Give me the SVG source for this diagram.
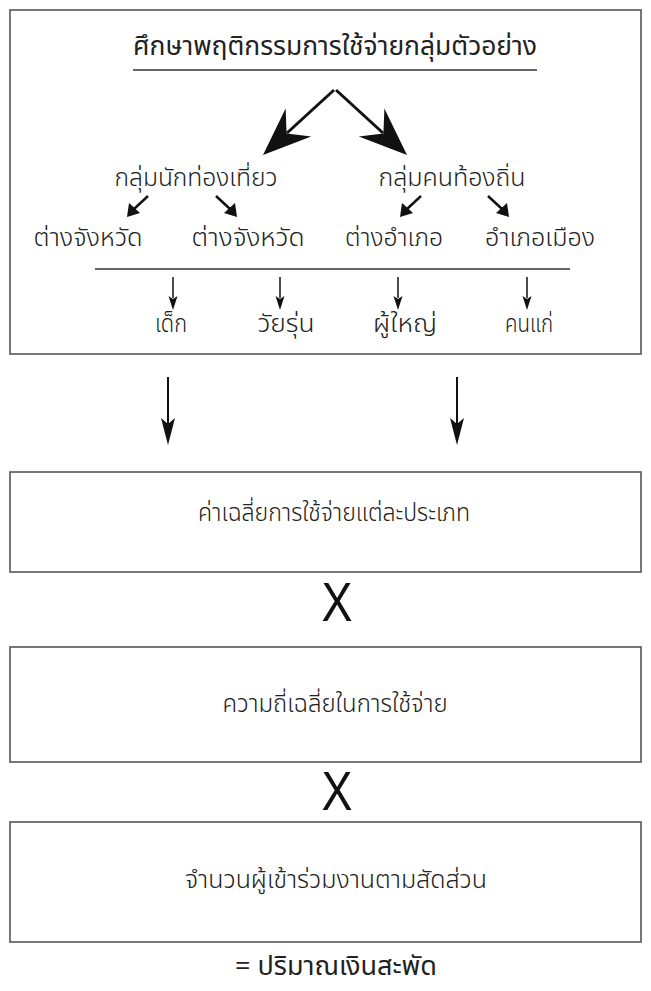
<svg xmlns="http://www.w3.org/2000/svg" width="651" height="991" viewBox="0 0 651 991">
<style>
.box{fill:#fff;stroke:#555;stroke-width:1.6}
.t{font-family:"Noto Sans Thai","Noto Sans",sans-serif;font-weight:300;fill:#222;text-anchor:middle}
.x{font-family:"Liberation Sans",Arial,sans-serif;fill:#111;text-anchor:middle}
.ln{stroke:#111;fill:none}
.hd{fill:#111;stroke:none}
</style>
<rect width="651" height="991" fill="#fff"/>
<g id="node-top">
<rect class="box" x="10" y="10" width="631" height="344"/>
<text class="t" x="335" y="55" font-size="26" textLength="404" lengthAdjust="spacingAndGlyphs" style="font-weight:400">ศึกษาพฤติกรรมการใช้จ่ายกลุ่มตัวอย่าง</text>
<line x1="133" y1="70" x2="537" y2="70" stroke="#333" stroke-width="1.3"/>
<text class="t" x="196" y="186" font-size="24" textLength="163" lengthAdjust="spacingAndGlyphs">กลุ่มนักท่องเที่ยว</text>
<text class="t" x="452" y="186" font-size="24" textLength="147" lengthAdjust="spacingAndGlyphs">กลุ่มคนท้องถิ่น</text>
<text class="t" x="88" y="246" font-size="24" textLength="109" lengthAdjust="spacingAndGlyphs">ต่างจังหวัด</text>
<text class="t" x="248" y="246" font-size="24" textLength="113" lengthAdjust="spacingAndGlyphs">ต่างจังหวัด</text>
<text class="t" x="394" y="246" font-size="24" textLength="98" lengthAdjust="spacingAndGlyphs">ต่างอำเภอ</text>
<text class="t" x="540" y="246" font-size="24" textLength="110" lengthAdjust="spacingAndGlyphs">อำเภอเมือง</text>
<line x1="95" y1="269" x2="570" y2="269" stroke="#333" stroke-width="1.3"/>
<text class="t" x="171" y="332" font-size="24" textLength="32" lengthAdjust="spacingAndGlyphs">เด็ก</text>
<text class="t" x="286" y="332" font-size="24" textLength="57" lengthAdjust="spacingAndGlyphs">วัยรุ่น</text>
<text class="t" x="405" y="332" font-size="24" textLength="64" lengthAdjust="spacingAndGlyphs">ผู้ใหญ่</text>
<text class="t" x="529" y="332" font-size="24" textLength="48" lengthAdjust="spacingAndGlyphs">คนแก่</text>
</g>
<g id="node-avg">
<rect class="box" x="10" y="472" width="631" height="100"/>
<text class="t" x="334" y="521" font-size="24" textLength="272" lengthAdjust="spacingAndGlyphs">ค่าเฉลี่ยการใช้จ่ายแต่ละประเภท</text>
</g>
<g id="op1"><text class="x" x="337" y="621" font-size="55" textLength="31" lengthAdjust="spacingAndGlyphs">X</text></g>
<g id="node-freq">
<rect class="box" x="10" y="647" width="631" height="115"/>
<text class="t" x="335" y="712" font-size="24" textLength="225" lengthAdjust="spacingAndGlyphs">ความถี่เฉลี่ยในการใช้จ่าย</text>
</g>
<g id="op2"><text class="x" x="337" y="810" font-size="55" textLength="31" lengthAdjust="spacingAndGlyphs">X</text></g>
<g id="node-count">
<rect class="box" x="10" y="822" width="631" height="120"/>
<text class="t" x="336" y="888" font-size="24" textLength="302" lengthAdjust="spacingAndGlyphs">จำนวนผู้เข้าร่วมงานตามสัดส่วน</text>
</g>
<g id="result">
<text class="t" x="336" y="975" font-size="26" textLength="202" lengthAdjust="spacingAndGlyphs" style="font-weight:400">= ปริมาณเงินสะพัด</text>
</g>
<g id="connectors">
<path class="ln" stroke-width="3" d="M334 90 L287 133"/>
<path class="hd" d="M263 155 L285.6 108.6 L286.6 133.4 L311.2 136.6 Z"/>
<path class="ln" stroke-width="3" d="M336 90 L383 133"/>
<path class="hd" d="M407 155 L384.4 108.6 L383.4 133.4 L358.8 136.6 Z"/>
<path class="ln" stroke-width="2.5" d="M148 196 L134 209"/>
<path class="hd" d="M127 217 L129 203 L140 213 Z"/>
<path class="ln" stroke-width="2.5" d="M216 196 L230 209"/>
<path class="hd" d="M237 217 L224 213 L235 203 Z"/>
<path class="ln" stroke-width="2.5" d="M421 196 L407 209"/>
<path class="hd" d="M400 217 L402 203 L413 213 Z"/>
<path class="ln" stroke-width="2.5" d="M488 196 L502 209"/>
<path class="hd" d="M509 217 L496 213 L507 203 Z"/>
<path class="ln" stroke-width="1.5" d="M173 277 L173 298"/>
<path class="hd" d="M173 310 L168.5 296 L173 299 L177.5 296 Z"/>
<path class="ln" stroke-width="1.5" d="M280 277 L280 298"/>
<path class="hd" d="M280 310 L275.5 296 L280 299 L284.5 296 Z"/>
<path class="ln" stroke-width="1.5" d="M398 277 L398 298"/>
<path class="hd" d="M398 310 L393.5 296 L398 299 L402.5 296 Z"/>
<path class="ln" stroke-width="1.5" d="M527 277 L527 298"/>
<path class="hd" d="M527 310 L522.5 296 L527 299 L531.5 296 Z"/>
<path class="ln" stroke-width="2" d="M168 377 L168 425"/>
<path class="hd" d="M168 445 L161 418 L168 424 L175 418 Z"/>
<path class="ln" stroke-width="2" d="M457 377 L457 425"/>
<path class="hd" d="M457 445 L450 418 L457 424 L464 418 Z"/>
</g>
</svg>
